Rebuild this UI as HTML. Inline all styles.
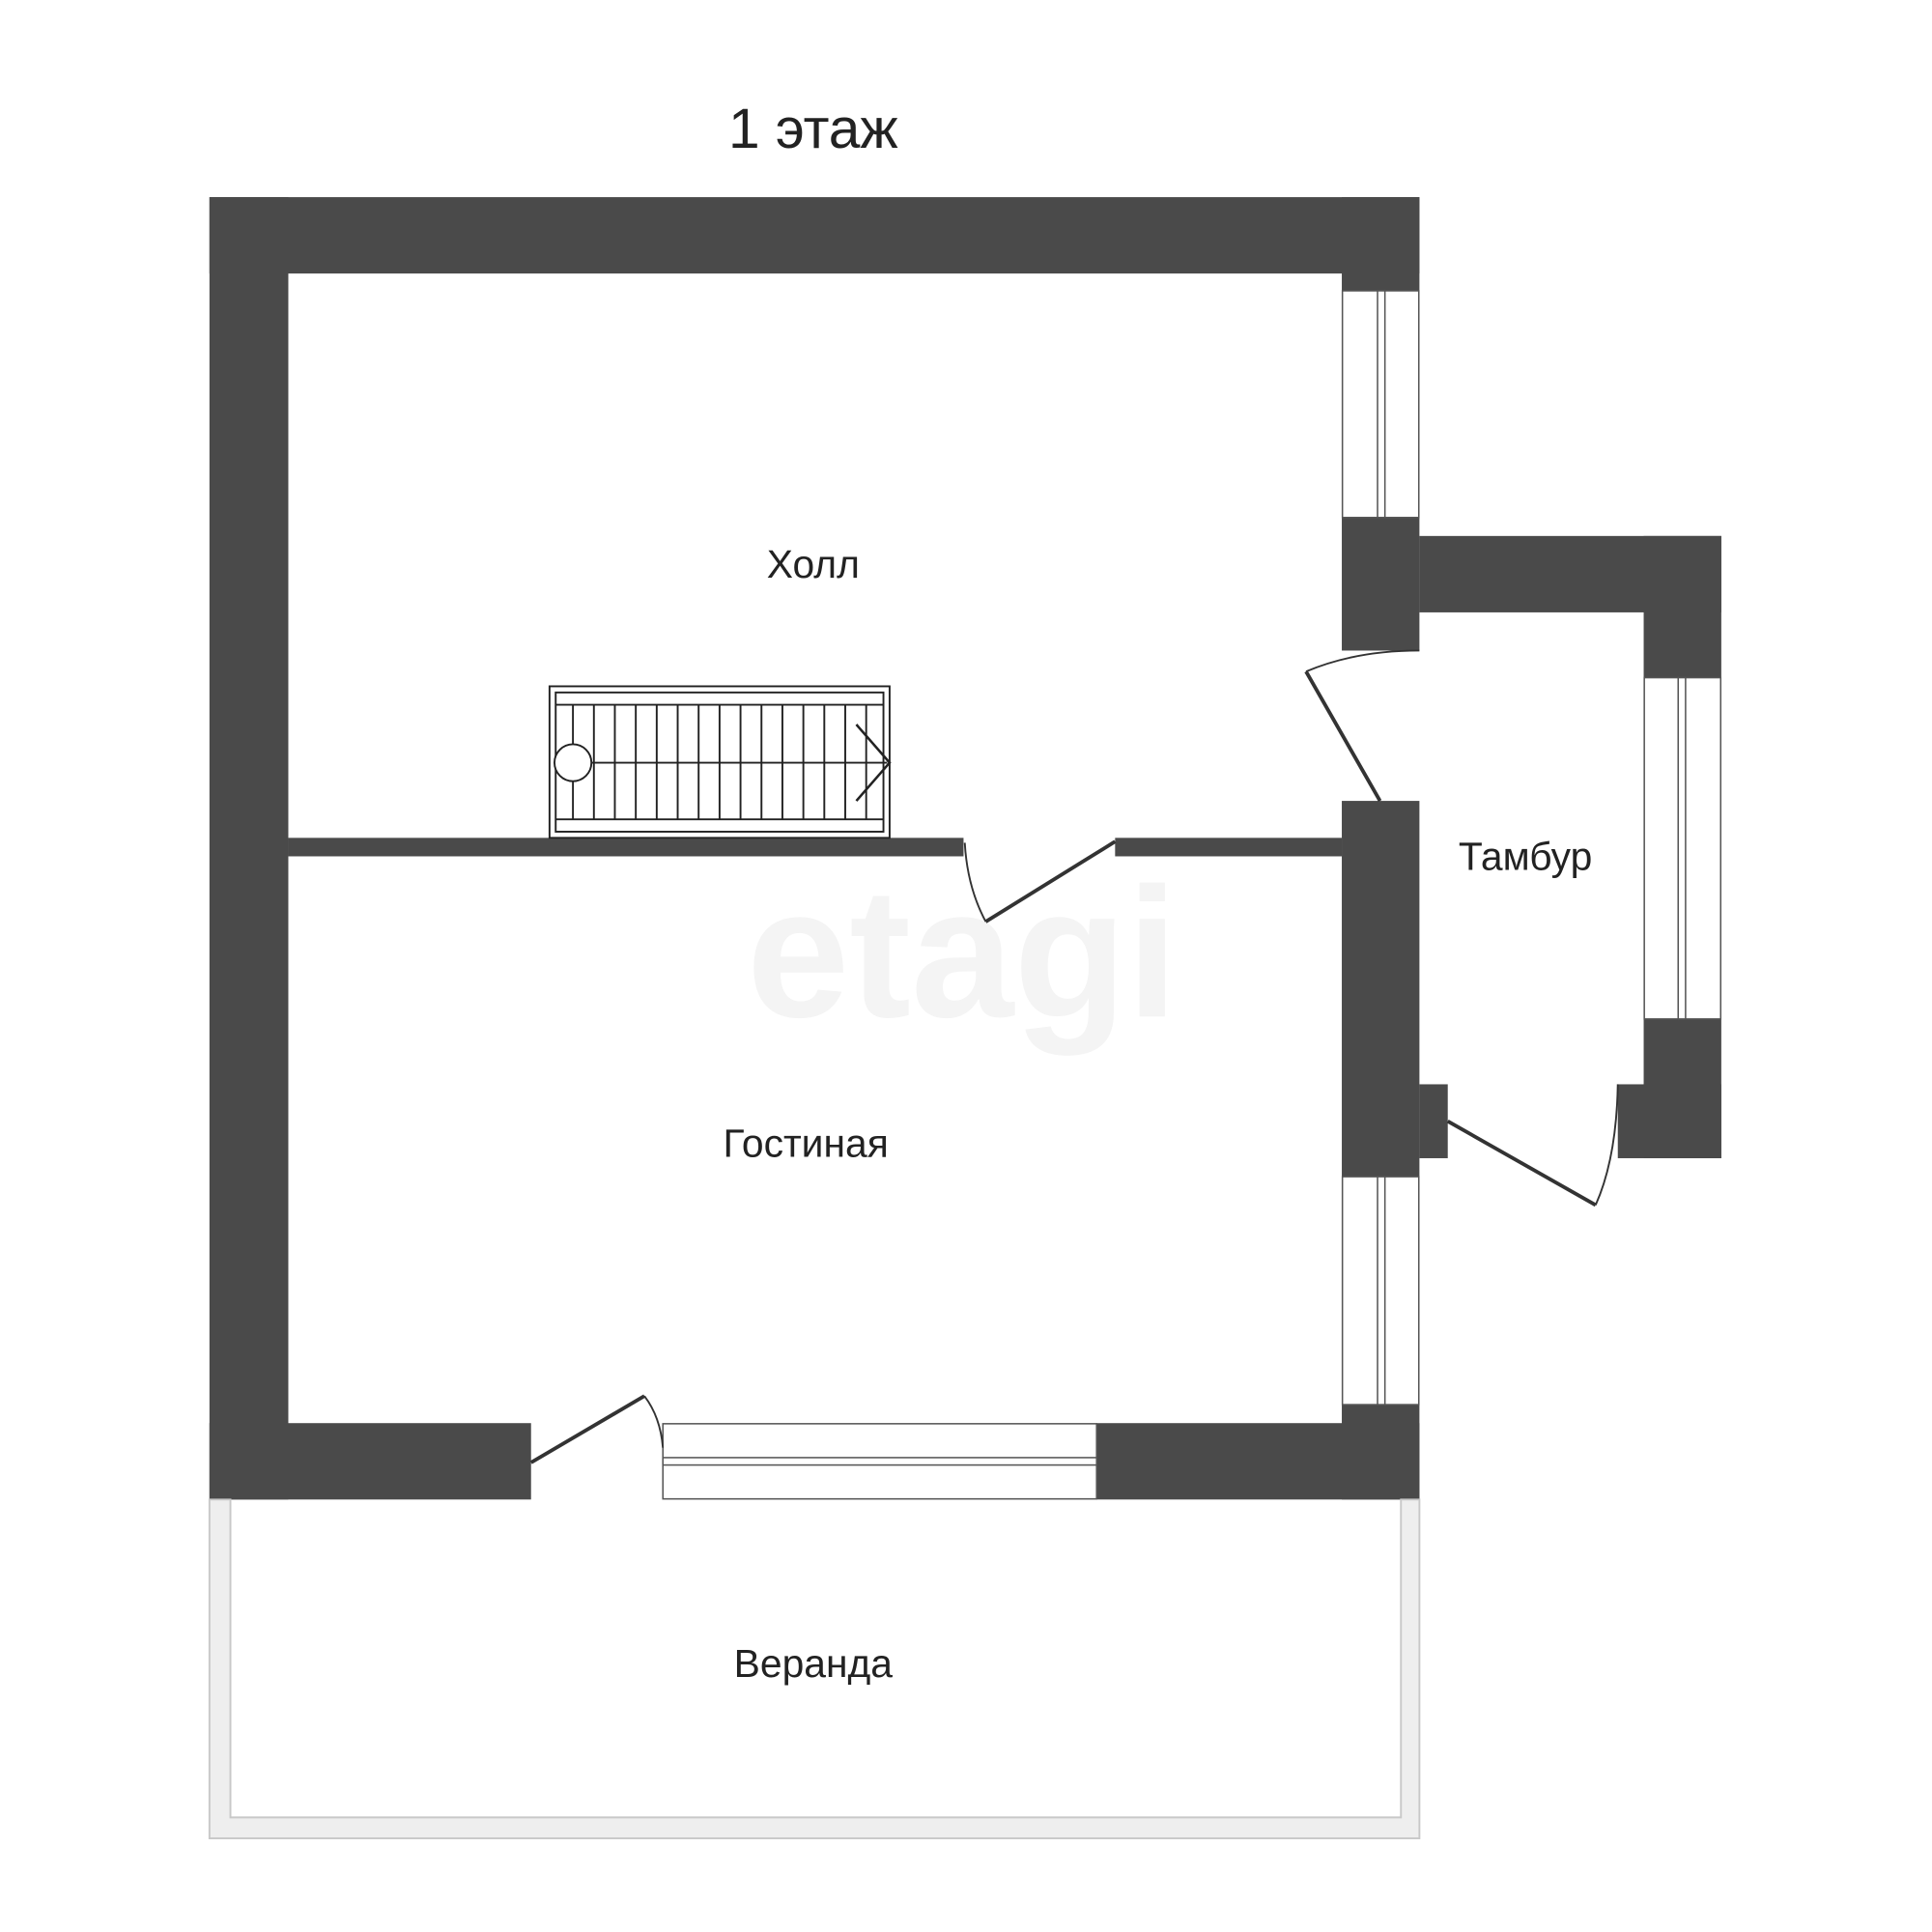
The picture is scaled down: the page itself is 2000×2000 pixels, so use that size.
<!DOCTYPE html>
<html><head><meta charset="utf-8"><style>html,body{margin:0;padding:0;background:#fff}svg{display:block}</style></head>
<body>
<svg width="2000" height="2000" viewBox="0 0 1568 1568" xmlns="http://www.w3.org/2000/svg">
<rect width="1568" height="1568" fill="#fff"/>
<text x="781" y="825" font-family="Liberation Sans, sans-serif" font-weight="bold" font-size="150" fill="#f4f4f4" text-anchor="middle">etagi</text>
<text x="660" y="120" font-family="Liberation Sans, sans-serif" font-size="46" fill="#222" text-anchor="middle">1 этаж</text>
<g fill="#4a4a4a">
<rect x="170" y="160" width="982" height="62"/>
<rect x="170" y="160" width="64" height="1057"/>
<rect x="170" y="1155" width="261" height="62"/>
<rect x="890" y="1155" width="262" height="62"/>
<rect x="1089" y="160" width="63" height="76"/>
<rect x="1089" y="420" width="63" height="108"/>
<rect x="1089" y="650" width="63" height="305"/>
<rect x="1089" y="1140" width="63" height="77"/>
<rect x="1152" y="435" width="245" height="62"/>
<rect x="1334" y="435" width="63" height="115"/>
<rect x="1334" y="827" width="63" height="113"/>
<rect x="1313" y="880" width="84" height="60"/>
<rect x="1152" y="880" width="23" height="60"/>
<rect x="234" y="680" width="548" height="15"/>
<rect x="905" y="680" width="184" height="15"/>
</g>
<g fill="#fff" stroke="#555" stroke-width="1.2">
<rect x="1089.5" y="236" width="62" height="184"/>
<rect x="1089.5" y="955" width="62" height="185"/>
<rect x="1334.5" y="550" width="62" height="277"/>
<rect x="538" y="1155.5" width="352" height="61"/>
<rect x="1118" y="236" width="6" height="184"/>
<rect x="1118" y="955" width="6" height="185"/>
<rect x="1362" y="550" width="6" height="277"/>
<rect x="538" y="1183" width="352" height="6"/>
</g>
<!-- veranda -->
<path d="M170 1217 V1492 H1152 V1217 H1137 V1475 H187 V1217 Z" fill="#eee" stroke="#c8c8c8" stroke-width="1.5"/>
<!-- doors -->
<g fill="none" stroke="#333">
<line x1="905" y1="683" x2="800" y2="748" stroke-width="3"/>
<path d="M800 748 Q785 720 783 684" stroke-width="1.5"/>
<line x1="1120" y1="650" x2="1060" y2="545" stroke-width="3"/>
<path d="M1060 545 Q1100 528 1152 528" stroke-width="1.5"/>
<line x1="1175" y1="910" x2="1295" y2="978" stroke-width="3"/>
<path d="M1295 978 Q1312 940 1313 880" stroke-width="1.5"/>
<line x1="431" y1="1187" x2="523" y2="1133" stroke-width="3"/>
<path d="M523 1133 Q536 1150 538 1175" stroke-width="1.5"/>
</g>
<!-- stairs -->
<g fill="none" stroke="#222" stroke-width="1.5">
<rect x="446" y="557" width="276" height="123" fill="#fff"/>
<rect x="451" y="562" width="266" height="113"/>
<line x1="451" y1="572" x2="717" y2="572"/>
<line x1="451" y1="665" x2="717" y2="665"/>
<line x1="465" y1="572" x2="465" y2="665"/>
<line x1="482" y1="572" x2="482" y2="665"/>
<line x1="499" y1="572" x2="499" y2="665"/>
<line x1="516" y1="572" x2="516" y2="665"/>
<line x1="533" y1="572" x2="533" y2="665"/>
<line x1="550" y1="572" x2="550" y2="665"/>
<line x1="567" y1="572" x2="567" y2="665"/>
<line x1="584" y1="572" x2="584" y2="665"/>
<line x1="601" y1="572" x2="601" y2="665"/>
<line x1="618" y1="572" x2="618" y2="665"/>
<line x1="635" y1="572" x2="635" y2="665"/>
<line x1="652" y1="572" x2="652" y2="665"/>
<line x1="669" y1="572" x2="669" y2="665"/>
<line x1="686" y1="572" x2="686" y2="665"/>
<line x1="703" y1="572" x2="703" y2="665"/>
<line x1="465" y1="619" x2="720" y2="619"/>
<circle cx="465" cy="619" r="15" fill="#fff"/>
<polyline points="695,588 722,619 695,650" stroke-width="2"/>
</g>
<g font-family="Liberation Sans, sans-serif" font-size="32" fill="#222" text-anchor="middle">
<text x="660" y="469">Холл</text>
<text x="654" y="939">Гостиная</text>
<text x="1238" y="706">Тамбур</text>
<text x="660" y="1361">Веранда</text>
</g>
</svg>
</body></html>
